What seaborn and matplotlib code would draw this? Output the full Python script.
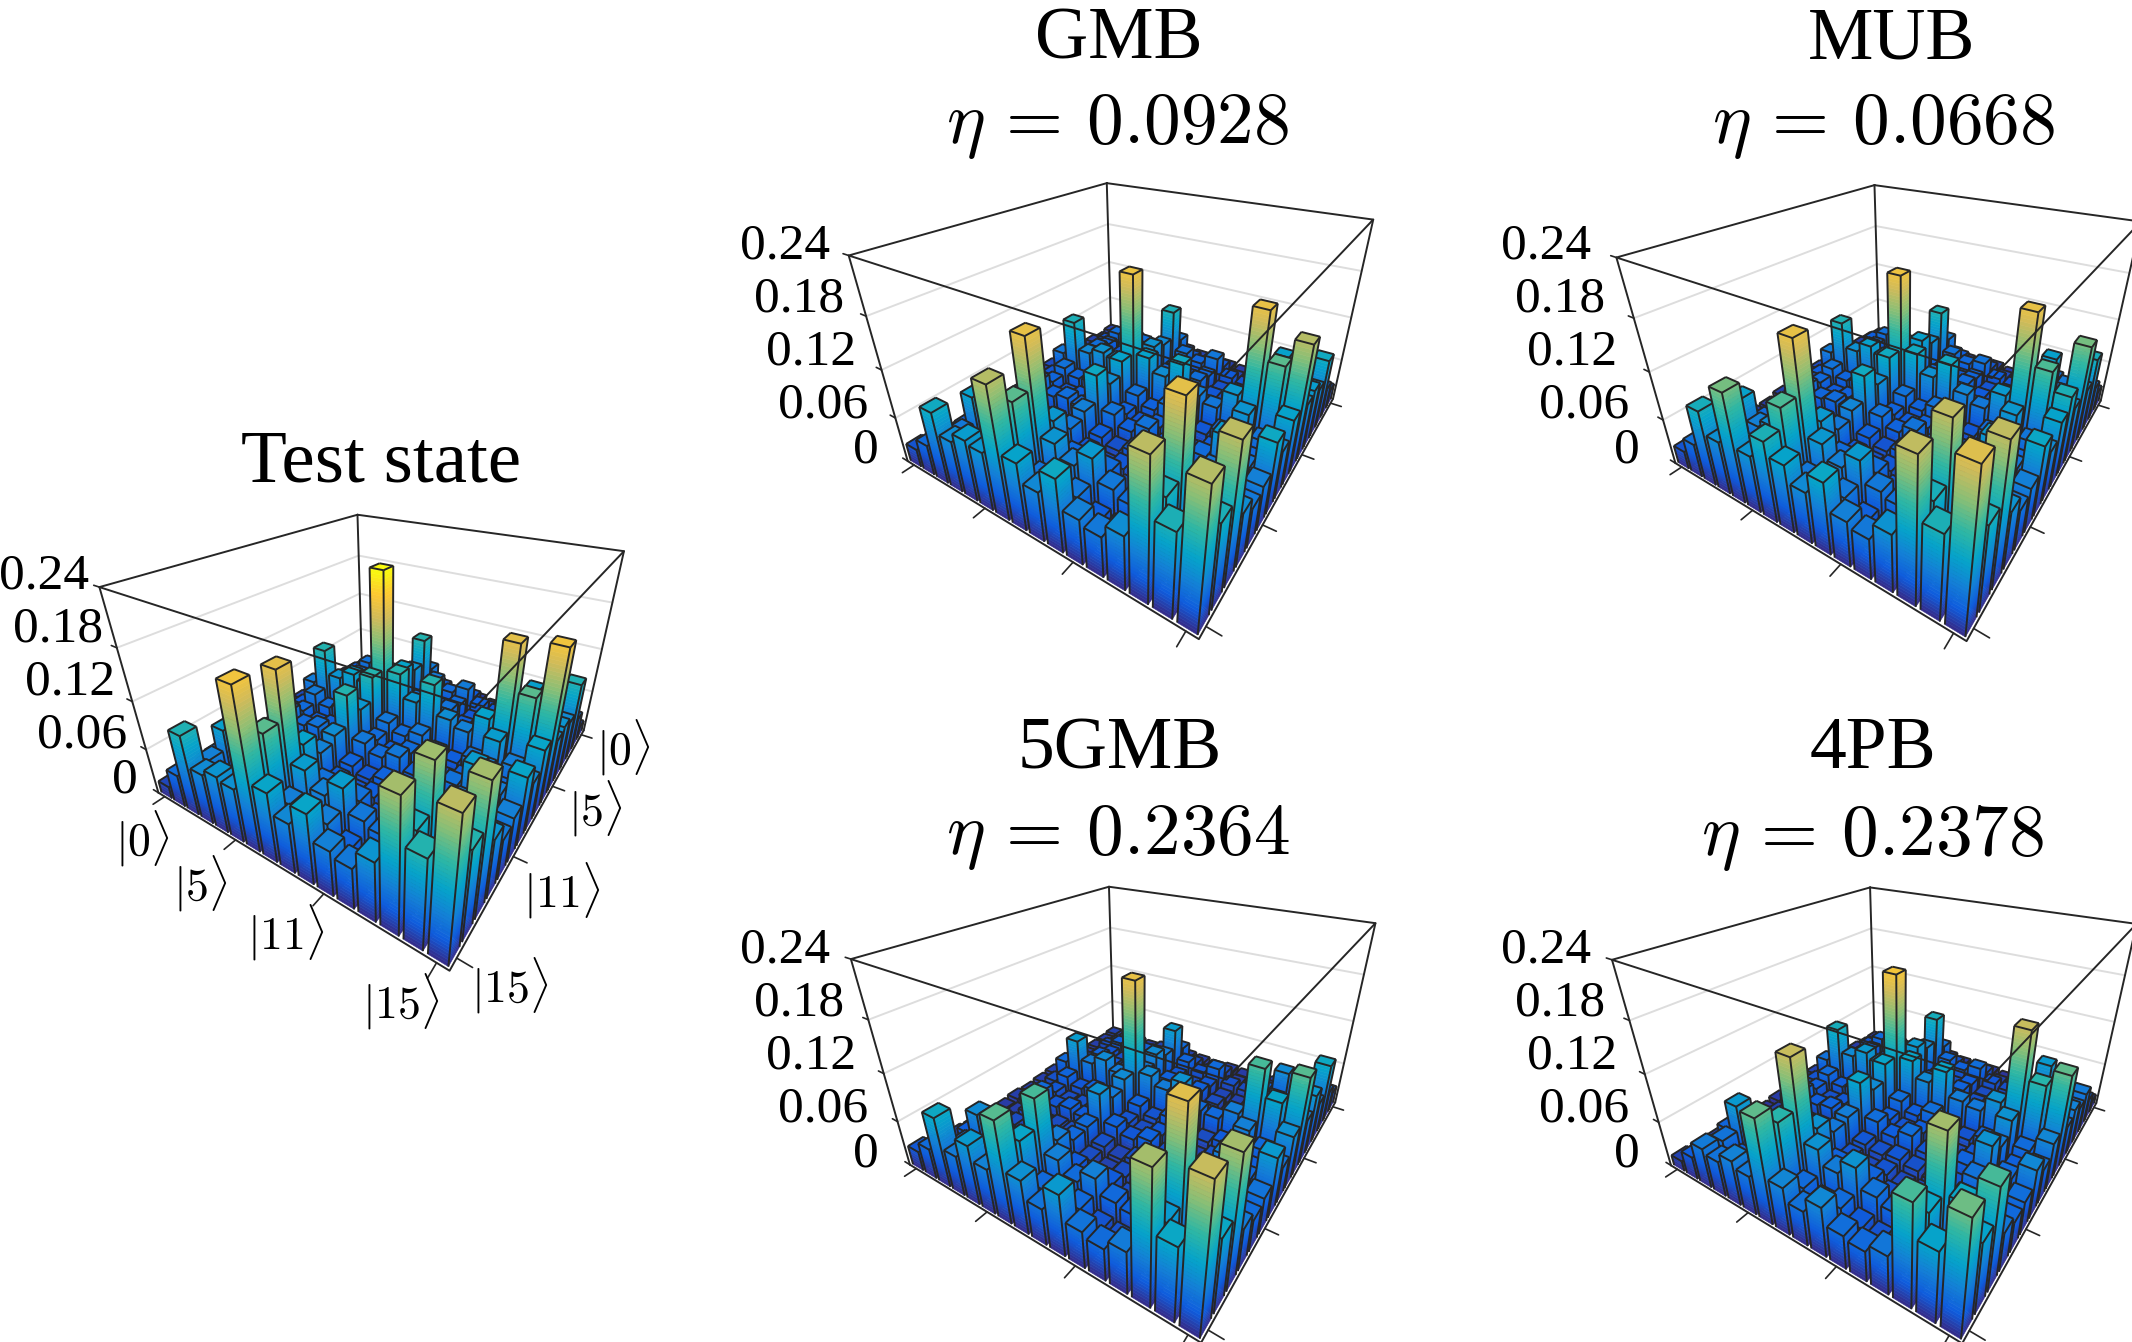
import numpy as np
import matplotlib
matplotlib.use("Agg")
import matplotlib.pyplot as plt
import seaborn as sns
from mpl_toolkits.mplot3d.art3d import Poly3DCollection, Line3DCollection

# values in thousandths, upper triangle only (|rho| is symmetric)
test_rows = [
    [6, 9, 12, 8, 10, 8, 18, 10, 8, 10, 6, 6, 10, 14, 12, 16],
    [16, 28, 22, 26, 24, 52, 30, 22, 28, 18, 16, 24, 38, 28, 42],
    [46, 40, 46, 44, 105, 52, 40, 52, 34, 30, 44, 80, 56, 102],
    [30, 36, 32, 72, 40, 30, 40, 26, 24, 36, 58, 40, 64],
    [40, 38, 84, 46, 34, 46, 30, 28, 40, 66, 46, 72],
    [34, 78, 42, 32, 42, 28, 26, 38, 60, 42, 68],
    [226, 105, 74, 105, 66, 58, 84, 180, 126, 188],
    [50, 40, 50, 34, 30, 44, 78, 54, 86],
    [30, 40, 26, 24, 34, 58, 40, 62],
    [50, 34, 30, 44, 78, 54, 86],
    [24, 20, 30, 50, 34, 56],
    [18, 26, 44, 30, 50],
    [36, 64, 44, 72],
    [150, 98, 152],
    [64, 105],
    [160],
]
gmb_rows = [
    [12, 9, 14, 10, 12, 12, 18, 14, 10, 12, 10, 10, 12, 14, 12, 24],
    [16, 24, 18, 22, 24, 48, 26, 18, 26, 15, 15, 22, 34, 24, 40],
    [42, 36, 42, 38, 100, 44, 36, 50, 28, 24, 38, 82, 50, 92],
    [26, 30, 28, 62, 36, 26, 36, 22, 22, 30, 50, 36, 66],
    [36, 30, 70, 38, 30, 42, 26, 22, 36, 62, 40, 78],
    [30, 66, 38, 28, 38, 24, 22, 30, 58, 38, 74],
    [185, 84, 66, 90, 56, 48, 74, 182, 126, 158],
    [44, 32, 46, 30, 26, 38, 72, 46, 84],
    [26, 32, 22, 18, 30, 56, 38, 62],
    [46, 30, 26, 40, 76, 48, 90],
    [22, 18, 26, 50, 30, 56],
    [18, 24, 42, 28, 50],
    [32, 62, 40, 66],
    [180, 100, 160],
    [54, 100],
    [158],
]
mub_rows = [
    [9, 12, 14, 10, 12, 14, 18, 12, 10, 14, 10, 10, 12, 16, 12, 24],
    [18, 30, 22, 26, 24, 52, 30, 22, 26, 18, 14, 24, 42, 28, 44],
    [44, 38, 42, 40, 102, 46, 38, 46, 30, 26, 40, 82, 52, 96],
    [28, 32, 30, 68, 36, 28, 36, 24, 22, 32, 56, 38, 68],
    [36, 32, 82, 40, 32, 40, 28, 24, 36, 66, 42, 135],
    [32, 74, 38, 28, 38, 26, 22, 32, 60, 40, 72],
    [186, 92, 68, 92, 60, 50, 76, 182, 122, 100],
    [46, 34, 46, 32, 26, 40, 74, 48, 84],
    [28, 34, 24, 22, 30, 56, 38, 64],
    [46, 32, 26, 42, 76, 50, 88],
    [24, 18, 28, 50, 32, 56],
    [18, 24, 44, 30, 50],
    [34, 64, 42, 70],
    [162, 98, 162],
    [56, 100],
    [176],
]
gmb5_rows = [
    [14, 12, 12, 10, 14, 12, 14, 12, 10, 12, 10, 10, 12, 14, 12, 26],
    [16, 22, 14, 20, 22, 40, 22, 14, 22, 12, 12, 20, 30, 20, 40],
    [32, 26, 34, 32, 78, 36, 26, 40, 22, 20, 32, 64, 40, 90],
    [22, 26, 22, 52, 26, 20, 26, 16, 14, 24, 40, 30, 52],
    [26, 24, 64, 32, 22, 32, 20, 16, 28, 50, 36, 76],
    [24, 52, 26, 22, 28, 20, 16, 24, 46, 30, 58],
    [182, 64, 52, 70, 40, 38, 54, 120, 86, 125],
    [34, 24, 34, 22, 20, 28, 56, 38, 68],
    [20, 26, 15, 14, 22, 40, 30, 46],
    [34, 22, 20, 28, 56, 38, 76],
    [20, 15, 20, 38, 24, 46],
    [15, 20, 34, 22, 40],
    [26, 46, 32, 52],
    [178, 76, 152],
    [46, 88],
    [165],
]
pb4_rows = [
    [7, 7, 10, 7, 10, 10, 14, 10, 7, 10, 7, 7, 10, 12, 10, 14],
    [14, 24, 18, 22, 22, 44, 24, 18, 24, 14, 14, 20, 36, 22, 30],
    [40, 34, 38, 36, 96, 40, 32, 42, 26, 22, 36, 76, 46, 52],
    [24, 28, 24, 64, 30, 22, 30, 20, 18, 26, 52, 32, 46],
    [34, 28, 76, 34, 26, 34, 22, 18, 30, 64, 38, 58],
    [28, 68, 30, 24, 30, 22, 18, 26, 56, 34, 50],
    [190, 86, 64, 86, 54, 50, 70, 165, 108, 128],
    [42, 30, 42, 26, 24, 34, 70, 40, 60],
    [24, 30, 22, 18, 26, 52, 32, 44],
    [42, 26, 24, 34, 70, 40, 62],
    [22, 18, 24, 46, 28, 42],
    [18, 22, 38, 24, 38],
    [30, 54, 36, 48],
    [152, 88, 120],
    [46, 84],
    [132],
]

z_ticks = [0, 0.06, 0.12, 0.18, 0.24]
z_labels = ["0", "0.06", "0.12", "0.18", "0.24"]
basis_ticks = [0, 5, 10, 15]
basis_labels = [r"$|0\rangle$", r"$|5\rangle$", r"$|11\rangle$", r"$|15\rangle$"]

W, H = 2132, 1342
DARK = "#262626"
SERIF = "Liberation Serif"

sns.set_theme(style="white")
plt.rcParams["font.family"] = [SERIF, "DejaVu Serif"]
plt.rcParams["mathtext.fontset"] = "cm"

parula = sns.blend_palette(
    ["#352A87", "#0F5CDD", "#1481D6", "#06A4CA", "#2EB7A4",
     "#87BF77", "#D1BB59", "#FEC832", "#F9FB0E"], as_cmap=True)
TOP_COLOUR = 0.225


def to_matrix(rows):
    m = np.zeros((16, 16))
    for i, r in enumerate(rows):
        m[i, i:] = r
    return (m + m.T - np.diag(np.diag(m))) / 1000


def draw_bar(ax, i, j, h, order, w=0.4):
    x0, x1, y0, y1 = i - w, i + w, j - w, j + w
    levels = np.arange(0, h, 0.004).tolist() + [h]
    polys, cols = [], []
    for a, b in zip(levels[:-1], levels[1:]):
        c = parula((a + b) / 2 / TOP_COLOUR)
        polys.append([(x1, y0, a), (x1, y1, a), (x1, y1, b), (x1, y0, b)])
        polys.append([(x0, y1, a), (x1, y1, a), (x1, y1, b), (x0, y1, b)])
        cols += [c, c]
    polys.append([(x0, y0, h), (x1, y0, h), (x1, y1, h), (x0, y1, h)])
    cols.append(parula(h / TOP_COLOUR))
    ax.add_collection3d(Poly3DCollection(polys, facecolors=cols, edgecolors=cols,
                                         linewidths=0.4, zorder=order))
    edges = [[(x0, y0, h), (x1, y0, h)], [(x1, y0, h), (x1, y1, h)],
             [(x1, y1, h), (x0, y1, h)], [(x0, y1, h), (x0, y0, h)],
             [(x1, y0, 0), (x1, y0, h)], [(x1, y1, 0), (x1, y1, h)],
             [(x0, y1, 0), (x0, y1, h)]]
    ax.add_collection3d(Line3DCollection(edges, colors=DARK, linewidths=1.4,
                                         zorder=order + 0.5))


def panel(shift_x, shift_y, rows):
    # camera fitted to the box corners of the test state panel
    dx, dy = 0.181, 0.2795
    Lx, Ly = 16 + 2 * dx, 16 + 2 * dy
    s = 5708.24
    ax = fig.add_axes([0, 0, 0.5, 0.5], projection="3d")
    ax.set_proj_type("persp", focal_length=0.0884)
    ax.view_init(elev=28.738, azim=-56.628)
    ax.set_xlim(7.5 + dx - Lx / 2, 7.5 + dx + Lx / 2)
    ax.set_ylim(7.5 + dy + Ly / 2, 7.5 + dy - Ly / 2)
    ax.set_zlim(0, 0.24)
    ax.set_box_aspect((Lx, 1.0573 * Ly, 0.6556 * 16), zoom=0.5)
    xa, xb = ax.viewLim.intervalx
    ya, yb = ax.viewLim.intervaly
    left = 389.18 + shift_x + s * xa
    bottom = 676.29 + shift_y - s * ya
    ax.set_position([left / W, 1 - bottom / H, s * (xb - xa) / W, s * (yb - ya) / H])
    ax.set_axis_off()
    ax.patch.set_visible(False)
    ax.computed_zorder = False
    lo, hi, top = -0.5, 15.5, 0.24

    # walls
    for z in z_ticks[1:-1]:
        ax.plot([lo, lo], [lo, hi], [z, z], color="#dddddd", lw=1.4, zorder=0)
        ax.plot([lo, hi], [lo, lo], [z, z], color="#dddddd", lw=1.4, zorder=0)
    for x, y in [(lo, lo), (lo, hi), (hi, lo)]:
        ax.plot([x, x], [y, y], [0, top], color=DARK, lw=1.4, zorder=1)
    ax.plot([lo, hi, hi], [hi, hi, lo], [0, 0, 0], color=DARK, lw=1.4, zorder=1)
    # ticks
    for t in basis_ticks:
        ax.plot([t, t], [hi, hi + 0.6], [0, 0], color=DARK, lw=1.2, zorder=1)
        ax.plot([hi, hi + 0.6], [t, t], [0, 0], color=DARK, lw=1.2, zorder=1)
    for z in z_ticks:
        ax.plot([lo, lo - 0.4], [hi, hi], [z, z], color=DARK, lw=1.2, zorder=1)

    m = to_matrix(rows)
    k = 2
    for i in range(16):
        for j in range(16):
            draw_bar(ax, i, j, max(m[i, j], 0.002), k)
            k += 1
    # top rectangle over the bars
    ax.plot([lo, lo, hi, hi, lo], [lo, hi, hi, lo, lo], [top] * 5, color=DARK, lw=1.4, zorder=k)
    return ax


def px_text(x, y, s, size, ha="center", va="center"):
    # positions measured on the 1568 wide preview
    fig.text(x * 1.36 / W, 1 - y * 1.36 / H, s, fontsize=size, ha=ha, va=va, color="black")


def z_text(x0, y0):
    # x0, y0 in full pixels: right end and middle of the 0.24 label
    offs = [(49, 204), (38, 159), (26, 106), (14, 53), (0, 0)]
    for lab, (dx, dy) in zip(z_labels, offs):
        fig.text((x0 + dx) / W, 1 - (y0 + dy) / H, lab, fontsize=37, ha="right", va="center",
                 color="black")


fig = plt.figure(figsize=(W / 100, H / 100), dpi=100)
fig.patch.set_facecolor("white")

panel(0, 0, test_rows)
panel(749.3, -331.6, gmb_rows)
panel(1517, -329.6, mub_rows)
panel(751.5, 372, gmb5_rows)
panel(1512.6, 372.7, pb4_rows)

px_text(280, 341, "Test state", 54)
px_text(823, 30, "GMB", 53)
px_text(822, 93, r"$\eta\,=\,0.0928$", 52.8)
px_text(1391, 30, "MUB", 53)
px_text(1385, 93, r"$\eta\,=\,0.0668$", 52.8)
px_text(823, 552, "5GMB", 53)
px_text(822, 616, r"$\eta\,=\,0.2364$", 52.8)
px_text(1377, 552, "4PB", 53)
px_text(1377, 616, r"$\eta\,=\,0.2378$", 52.8)

z_text(89, 576)
z_text(830, 246)
z_text(1591, 246)
z_text(830, 950)
z_text(1591, 950)

for lab, (x, y) in zip(basis_labels, [(105, 617), (147, 650), (210, 686), (295, 737)]):
    px_text(x, y, lab, 33)
for lab, (x, y) in zip(basis_labels, [(458, 550), (438, 595), (413, 655), (375, 725)]):
    px_text(x, y, lab, 33)

fig.savefig("out.png", dpi=100)
